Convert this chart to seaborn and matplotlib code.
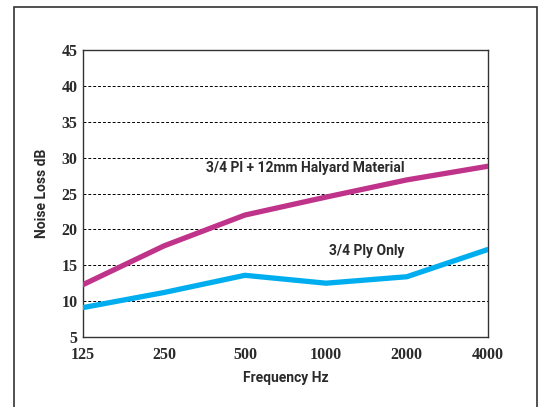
import pandas as pd
import matplotlib.pyplot as plt
import seaborn as sns
from matplotlib.patches import Rectangle

freqs = ["125", "250", "500", "1000", "2000", "4000"]
halyard = [12.3, 17.7, 22.0, 24.5, 26.9, 28.8]
ply_only = [9.1, 11.2, 13.6, 12.5, 13.4, 17.2]
y_ticks = [5, 10, 15, 20, 25, 30, 35, 40, 45]

df = pd.DataFrame({
    "freq": freqs * 2,
    "pos": list(range(len(freqs))) * 2,
    "loss": halyard + ply_only,
    "series": ["3/4 Pl + 12mm Halyard Material"] * 6 + ["3/4 Ply Only"] * 6,
})

sns.set_style("white")
fig = plt.figure(figsize=(5.39, 4.07), dpi=100)
ax = fig.add_axes([0.154, 0.172, 0.751, 0.705])

txt = "#2B2A2B"
lab_font = "Roboto"

# outer frame
fig.patches.append(Rectangle((14 / 539, -0.05), 523 / 539, 1 - 7 / 407 + 0.05,
                             transform=fig.transFigure, fill=False,
                             edgecolor="#333333", linewidth=1.2))

for y in y_ticks[1:-1]:
    ax.axhline(y, color="black", linestyle=(0, (3, 2)), linewidth=0.7, zorder=1)

sns.lineplot(data=df, x="pos", y="loss", hue="series",
             palette=["#C0338A", "#00AEEF"], linewidth=3.8, legend=False,
             ax=ax, zorder=3)

ax.set_xlim(0, 5)
ax.set_ylim(5, 45)
ax.set_xticks(range(len(freqs)))
ax.set_xticklabels(freqs)
ax.set_yticks(y_ticks)
for lab in ax.get_xticklabels() + ax.get_yticklabels():
    lab.set_fontfamily("Liberation Serif")
    lab.set_fontweight("bold")
    lab.set_fontsize(11.5)
    lab.set_color(txt)
ax.tick_params(axis="y", length=0, pad=4)
ax.tick_params(axis="x", length=0, pad=7)

for s in ax.spines.values():
    s.set_color("#333333")
    s.set_linewidth(1.0)

ax.set_xlabel("Frequency Hz", fontsize=10, fontweight="bold", family=lab_font,
              color=txt, labelpad=6)
ax.set_ylabel("Noise Loss dB", fontsize=10, fontweight="bold", family=lab_font,
              color=txt, labelpad=9)

ax.text(2.74, 28.55, "3/4 Pl + 12mm Halyard Material", fontsize=10,
        fontweight="bold", family=lab_font, color=txt, ha="center", va="center")
ax.text(3.51, 17.0, "3/4 Ply Only", fontsize=10, fontweight="bold",
        family=lab_font, color=txt, ha="center", va="center")

fig.savefig("out.png", dpi=100)
